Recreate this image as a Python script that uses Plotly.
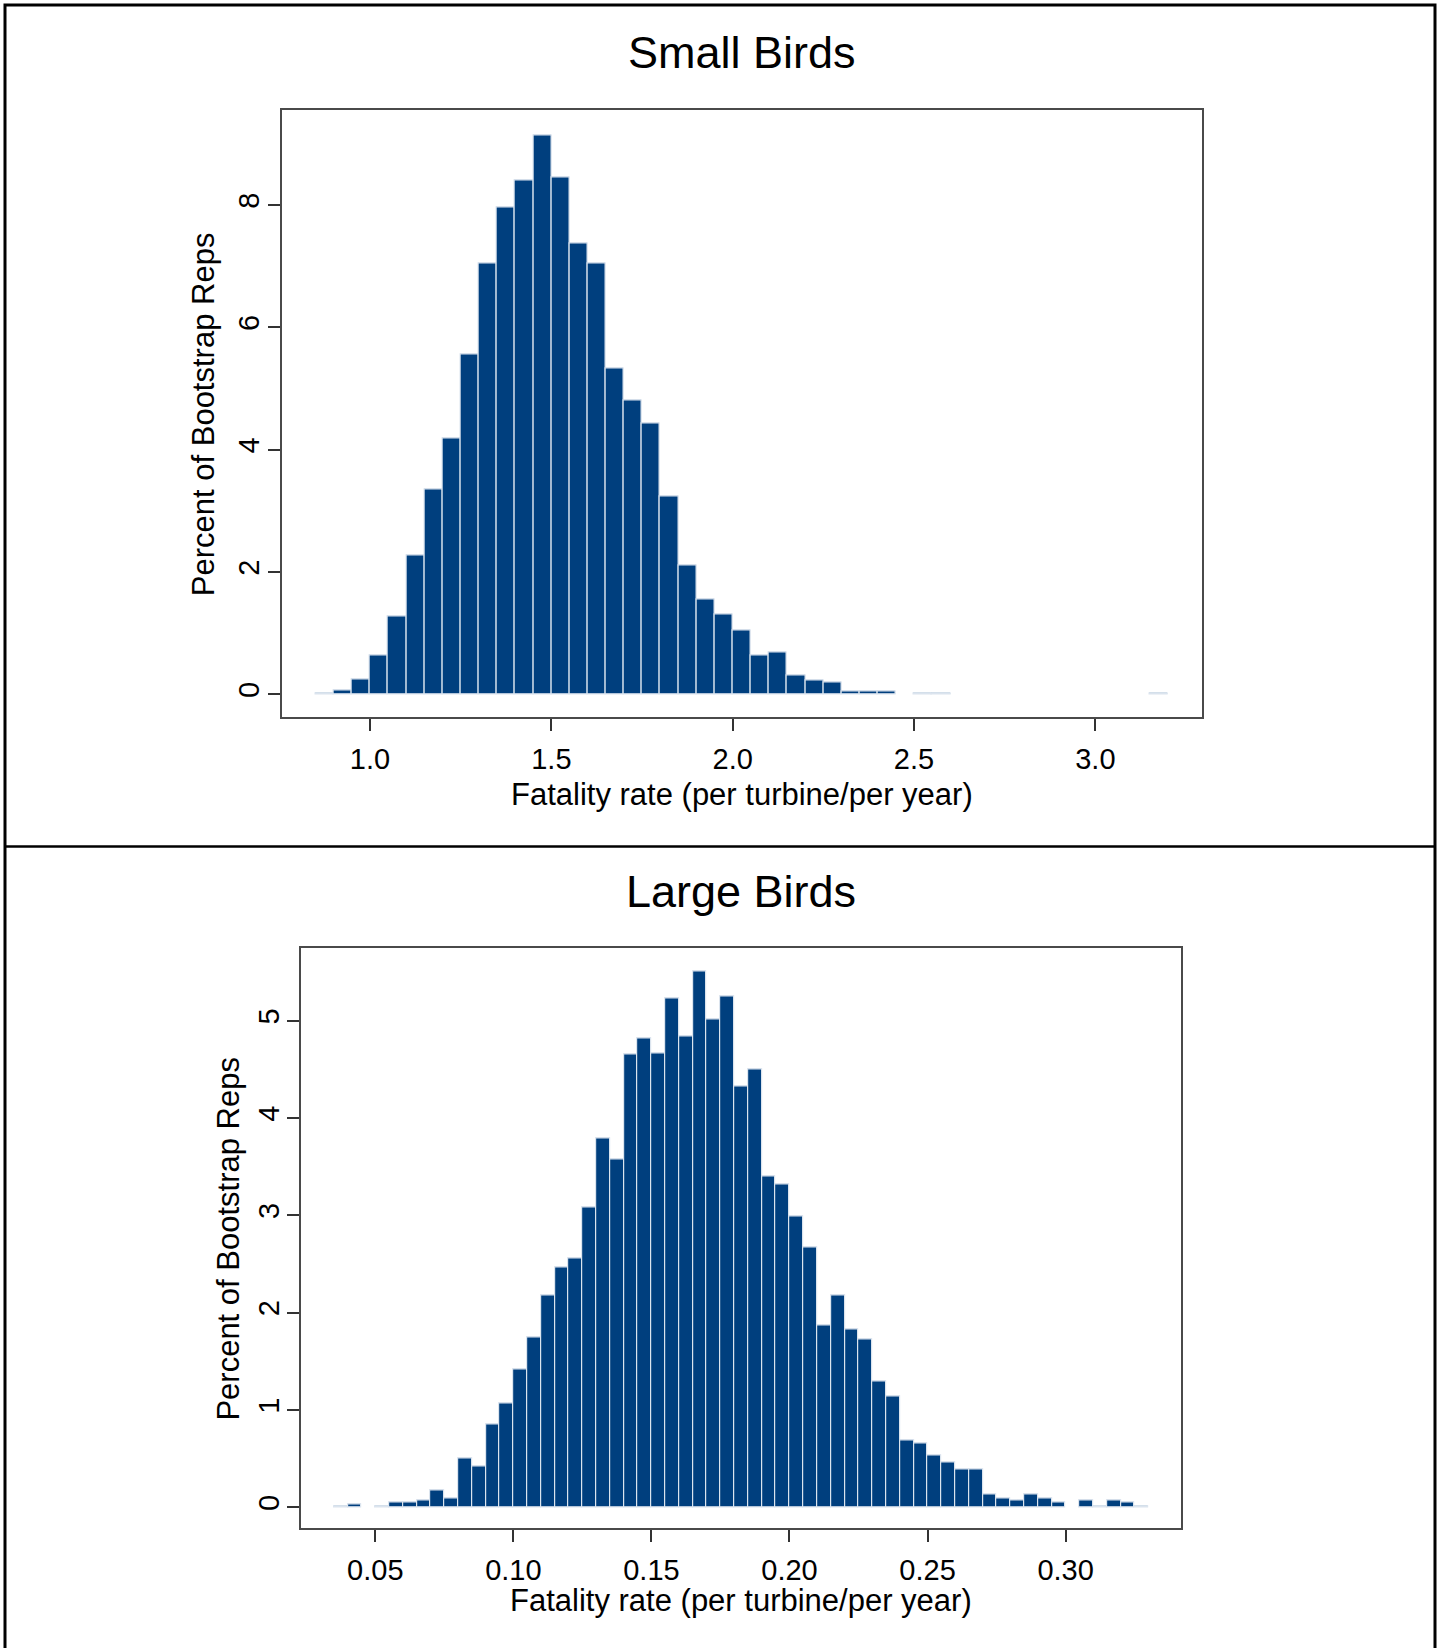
import plotly.graph_objects as go

# ---------------- data ----------------
# Small birds: histogram bins (left edges, width 0.05) and percent of bootstrap reps
small_bin_start = [0.85, 0.90, 0.95, 1.00, 1.05, 1.10, 1.15, 1.20, 1.25, 1.30,
                   1.35, 1.40, 1.45, 1.50, 1.55, 1.60, 1.65, 1.70, 1.75, 1.80,
                   1.85, 1.90, 1.95, 2.00, 2.05, 2.10, 2.15, 2.20, 2.25, 2.30,
                   2.35, 2.40, 2.50, 2.55, 3.15]
small_pct = [0.01, 0.07, 0.25, 0.63, 1.27, 2.27, 3.35, 4.19, 5.56, 7.04,
             7.96, 8.40, 9.14, 8.45, 7.37, 7.04, 5.33, 4.81, 4.43, 3.23,
             2.11, 1.55, 1.31, 1.05, 0.64, 0.69, 0.31, 0.23, 0.19, 0.04,
             0.04, 0.04, 0.01, 0.02, 0.01]
small_bin_width = 0.05

# Large birds: histogram bins (left edges, width 0.005)
large_bin_start = [0.035, 0.040, 0.050, 0.055, 0.060, 0.065, 0.070, 0.075, 0.080, 0.085,
                   0.090, 0.095, 0.100, 0.105, 0.110, 0.115, 0.120, 0.125, 0.130, 0.135,
                   0.140, 0.145, 0.150, 0.155, 0.160, 0.165, 0.170, 0.175, 0.180, 0.185,
                   0.190, 0.195, 0.200, 0.205, 0.210, 0.215, 0.220, 0.225, 0.230, 0.235,
                   0.240, 0.245, 0.250, 0.255, 0.260, 0.265, 0.270, 0.275, 0.280, 0.285,
                   0.290, 0.295, 0.305, 0.310, 0.315, 0.320, 0.325]
large_pct = [0.01, 0.03, 0.01, 0.05, 0.05, 0.07, 0.17, 0.09, 0.50, 0.42,
             0.85, 1.07, 1.42, 1.75, 2.18, 2.46, 2.56, 3.08, 3.79, 3.58,
             4.65, 4.82, 4.66, 5.23, 4.84, 5.51, 5.01, 5.25, 4.33, 4.50,
             3.40, 3.32, 2.99, 2.67, 1.87, 2.18, 1.83, 1.72, 1.29, 1.14,
             0.69, 0.66, 0.53, 0.46, 0.39, 0.39, 0.13, 0.09, 0.07, 0.13,
             0.09, 0.05, 0.07, 0.01, 0.07, 0.05, 0.01]
large_bin_width = 0.005

small_xticks = [1.0, 1.5, 2.0, 2.5, 3.0]
small_yticks = [0, 2, 4, 6, 8]
large_xticks = [0.05, 0.10, 0.15, 0.20, 0.25, 0.30]
large_yticks = [0, 1, 2, 3, 4, 5]

titles = ["Small Birds", "Large Birds"]
x_title = "Fatality rate (per turbine/per year)"
y_title = "Percent of Bootstrap Reps"

# ---------------- figure ----------------
W, H = 1443, 1648
FONT = "Liberation Sans, Arial, sans-serif"
BAR = "#003f7e"
EDGE = "#dbe4ee"


def px(x):
    return x / W


def py(y):
    return 1 - y / H


fig = go.Figure()
fig.add_trace(go.Bar(x=small_bin_start, y=small_pct, width=small_bin_width, offset=0,
                     marker=dict(color=BAR, line=dict(color=EDGE, width=1.2)),
                     xaxis="x", yaxis="y", showlegend=False, hoverinfo="x+y"))
fig.add_trace(go.Bar(x=large_bin_start, y=large_pct, width=large_bin_width, offset=0,
                     marker=dict(color=BAR, line=dict(color=EDGE, width=1.2)),
                     xaxis="x2", yaxis="y2", showlegend=False, hoverinfo="x+y"))

axis_common = dict(showline=True, mirror=True, linecolor="#4a4a4a", linewidth=2,
                   ticks="outside", ticklen=12, tickwidth=1.5, tickcolor="#333",
                   showgrid=False, zeroline=False,
                   tickfont=dict(family=FONT, size=29, color="black"))

fig.update_layout(
    width=W, height=H,
    margin=dict(l=0, r=0, t=0, b=0),
    paper_bgcolor="white", plot_bgcolor="white",
    bargap=0,
    font=dict(family=FONT, color="black"),
    xaxis=dict(domain=[px(281.7), px(1202)], range=[0.7565, 3.294],
               tickvals=small_xticks, tickformat=".1f", anchor="y",
               ticklabelstandoff=3, **axis_common),
    yaxis=dict(domain=[py(717.3), py(110.4)], range=[-0.376, 9.547],
               tickvals=small_yticks, tickangle=-90, anchor="x",
               ticklabelstandoff=-3, **axis_common),
    xaxis2=dict(domain=[px(301.2), px(1181.3)], range=[0.02316, 0.3419],
                tickvals=large_xticks, tickformat=".2f", anchor="y2",
                ticklabelstandoff=3, **axis_common),
    yaxis2=dict(domain=[py(1528.2), py(948.4)], range=[-0.216, 5.744],
                tickvals=large_yticks, tickangle=-90, anchor="x2",
                ticklabelstandoff=-3, **axis_common),
)

ann = []
# panel titles
ann.append(dict(text=titles[0], x=px(741.7), y=py(52.7), xref="paper", yref="paper",
                showarrow=False, xanchor="center", yanchor="middle",
                font=dict(family=FONT, size=45, color="black")))
ann.append(dict(text=titles[1], x=px(740.8), y=py(891.1), xref="paper", yref="paper",
                showarrow=False, xanchor="center", yanchor="middle",
                font=dict(family=FONT, size=45, color="black")))
# axis titles
ann.append(dict(text=x_title, x=px(741.9), y=py(794.3), xref="paper", yref="paper",
                showarrow=False, xanchor="center", yanchor="middle",
                font=dict(family=FONT, size=31, color="black")))
ann.append(dict(text=x_title, x=px(741.3), y=py(1600.5), xref="paper", yref="paper",
                showarrow=False, xanchor="center", yanchor="middle",
                font=dict(family=FONT, size=31, color="black")))
ann.append(dict(text=y_title, x=px(204.3), y=py(413.9), xref="paper", yref="paper",
                showarrow=False, xanchor="center", yanchor="middle", textangle=-90,
                font=dict(family=FONT, size=31, color="black")))
ann.append(dict(text=y_title, x=px(228.3), y=py(1238.3), xref="paper", yref="paper",
                showarrow=False, xanchor="center", yanchor="middle", textangle=-90,
                font=dict(family=FONT, size=31, color="black")))
fig.update_layout(annotations=ann)

# outer frame and panel divider
fig.add_shape(type="rect", xref="paper", yref="paper",
              x0=px(5), x1=px(1435), y0=py(1665), y1=py(5),
              line=dict(color="black", width=3), fillcolor="rgba(0,0,0,0)", layer="above")
fig.add_shape(type="line", xref="paper", yref="paper",
              x0=px(5), x1=px(1435), y0=py(846.5), y1=py(846.5),
              line=dict(color="black", width=2.5), layer="above")

fig.write_html("out.html", include_plotlyjs=True,
               config={"displayModeBar": False},
               post_script="document.body.style.margin='0';")
